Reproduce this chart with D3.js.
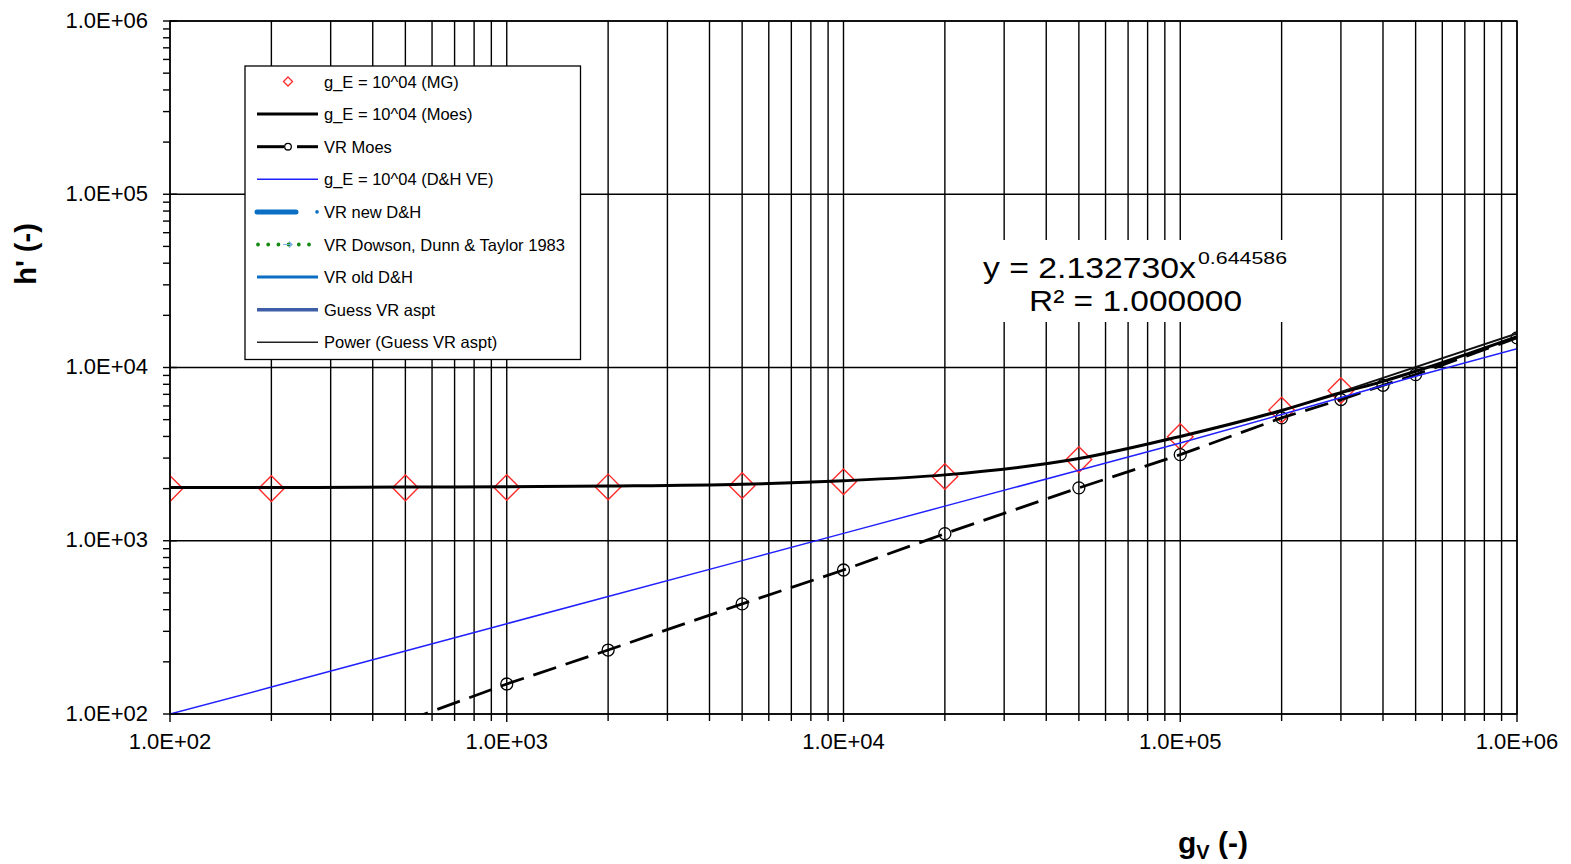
<!DOCTYPE html>
<html><head><meta charset="utf-8">
<script src="https://cdn.jsdelivr.net/npm/d3@7"></script>
<style>
html,body{margin:0;padding:0;background:#fff;}
svg{display:block;font-family:"Liberation Sans",Arial,sans-serif;}
</style></head><body>
<svg id="chart" width="1571" height="864"></svg>
<script>
// ---- data: dimensionless film thickness h' versus g_V ----
const gvMG   = [1e2, 2e2, 5e2, 1e3, 2e3, 5e3, 1e4, 2e4, 5e4, 1e5, 2e5, 3e5];
const hMG    = [2000, 2000, 2020, 2030, 2045, 2080, 2190, 2350, 2940, 3990, 5680, 7360];

const gvMoes = [1e2, 2e2, 5e2, 1e3, 2e3, 5e3, 1e4, 2e4, 5e4, 1e5, 2e5, 3e5, 4e5, 5e5, 1e6];
const hMoes  = [2030, 2030, 2040, 2050, 2070, 2120, 2220, 2400, 2980, 4000, 5650, 7150, 8320, 9510, 15070];

const gvVRMoes = [5e2, 1e3, 2e3, 5e3, 1e4, 2e4, 5e4, 1e5, 2e5, 3e5, 4e5, 5e5, 1e6];
const hVRMoes  = [91, 149, 234, 432, 678, 1099, 2020, 3140, 5120, 6530, 7890, 9100, 14830];

const gvDHVE = [1e2, 2e2, 5e2, 1e3, 2e3, 5e3, 1e4, 2e4, 5e4, 1e5, 2e5, 5e5, 1e6];
const hDHVE  = [100, 143, 231, 332, 477, 768, 1103, 1584, 2551, 3664, 5350, 8900, 12850];

// power trendline fitted to "Guess VR aspt"
const fitA = 2.132730;
const fitB = 0.644586;
const fitR2 = 1.000000;
const fitRange = [3e5, 1e6];

const axisDomain = [1e2, 1e6];
const majorTicks = [1e2, 1e3, 1e4, 1e5, 1e6];

const legendNames = [
  "g_E = 10^04 (MG)",
  "g_E = 10^04 (Moes)",
  "VR Moes",
  "g_E = 10^04 (D&H VE)",
  "VR new D&H",
  "VR Dowson, Dunn & Taylor 1983",
  "VR old D&H",
  "Guess VR aspt",
  "Power (Guess VR aspt)"
];

// ---- layout ----
const svg = d3.select("#chart");
const X0 = 170, X1 = 1517, Y0 = 714, Y1 = 21;
const x = d3.scaleLog().domain(axisDomain).range([X0, X1]);
const y = d3.scaleLog().domain(axisDomain).range([Y0, Y1]);
const fmt = v => v.toExponential(1).toUpperCase().replace(/E([+-])(\d)$/, "E$10$2");
const zip = (a, b) => a.map((v, i) => ({x: v, y: b[i]}));

svg.append("rect").attr("width", 1571).attr("height", 864).attr("fill", "#fff");

svg.append("defs").append("clipPath").attr("id", "plotClip")
  .append("rect").attr("x", X0).attr("y", Y1).attr("width", X1 - X0).attr("height", Y0 - Y1);

// gridlines: every minor step along x, decades along y
const grid = svg.append("g").attr("stroke", "#000").attr("stroke-width", 1.4);
grid.selectAll("line.vx").data(x.ticks()).join("line")
  .attr("x1", d => x(d)).attr("x2", d => x(d)).attr("y1", Y1).attr("y2", Y0);
grid.selectAll("line.hy").data(majorTicks).join("line")
  .attr("y1", d => y(d)).attr("y2", d => y(d)).attr("x1", X0).attr("x2", X1);

// tick marks
const ticks = svg.append("g").attr("stroke", "#000").attr("stroke-width", 1.4);
ticks.selectAll("line.ty").data(y.ticks()).join("line")
  .attr("y1", d => y(d)).attr("y2", d => y(d))
  .attr("x1", X0 - 7).attr("x2", d => majorTicks.includes(d) ? X0 + 7 : X0);
ticks.selectAll("line.tx").data(x.ticks()).join("line")
  .attr("x1", d => x(d)).attr("x2", d => x(d))
  .attr("y1", Y0).attr("y2", d => majorTicks.includes(d) ? Y0 + 8 : Y0 + 7);

// tick labels
svg.append("g").selectAll("text").data(majorTicks).join("text")
  .attr("x", 148).attr("y", d => y(d) - 1).attr("text-anchor", "end")
  .attr("dominant-baseline", "central").attr("font-size", 22).attr("fill", "#000")
  .text(fmt);
svg.append("g").selectAll("text").data(majorTicks).join("text")
  .attr("x", d => x(d)).attr("y", 741).attr("text-anchor", "middle")
  .attr("dominant-baseline", "central").attr("font-size", 22).attr("fill", "#000")
  .text(fmt);

// axis titles
svg.append("text").attr("transform", "translate(35.5,254) rotate(-90)")
  .attr("text-anchor", "middle").attr("font-size", 29).attr("font-weight", "bold")
  .text("h' (-)");
const xt = svg.append("text").attr("x", 1178).attr("y", 853)
  .attr("font-size", 30).attr("font-weight", "bold");
xt.append("tspan").text("g");
xt.append("tspan").attr("font-size", 20).attr("dy", 6).text("V");
xt.append("tspan").attr("dy", -6).text(" (-)");

// ---- series ----
const plot = svg.append("g").attr("clip-path", "url(#plotClip)");

// g_E = 10^04 (MG): hollow red diamonds
const dia = s => `M0,${-s}L${s},0L0,${s}L${-s},0Z`;
plot.append("g").selectAll("path").data(zip(gvMG, hMG)).join("path")
  .attr("transform", d => `translate(${x(d.x)},${y(d.y)})`)
  .attr("d", dia(12.8)).attr("fill", "none").attr("stroke", "#ff2a2a").attr("stroke-width", 1.4);

// g_E = 10^04 (Moes): smooth thick black line
const lineGen = d3.line().x(d => x(d.x)).y(d => y(d.y));
plot.append("path").datum(zip(gvMoes, hMoes))
  .attr("d", lineGen.curve(d3.curveMonotoneX)).attr("fill", "none")
  .attr("stroke", "#000").attr("stroke-width", 3);

// VR Moes: long-dash black line with hollow circles
const straight = d3.line().x(d => x(d.x)).y(d => y(d.y));
plot.append("path").datum(zip(gvVRMoes, hVRMoes))
  .attr("d", straight).attr("fill", "none").attr("stroke", "#000")
  .attr("stroke-width", 2.8).attr("stroke-dasharray", "24,10");
plot.append("g").selectAll("circle").data(zip(gvVRMoes, hVRMoes)).join("circle")
  .attr("cx", d => x(d.x)).attr("cy", d => y(d.y)).attr("r", 6)
  .attr("fill", "none").attr("stroke", "#000").attr("stroke-width", 1.3);

// g_E = 10^04 (D&H VE): thin blue line
plot.append("path").datum(zip(gvDHVE, hDHVE))
  .attr("d", straight).attr("fill", "none").attr("stroke", "#2020ff").attr("stroke-width", 1.5);

// Power trendline y = a x^b
const fitPts = fitRange.map(v => ({x: v, y: fitA * Math.pow(v, fitB)}));
plot.append("path").datum(fitPts)
  .attr("d", straight).attr("fill", "none").attr("stroke", "#111").attr("stroke-width", 2);

// plot frame
svg.append("rect").attr("x", X0).attr("y", Y1).attr("width", X1 - X0).attr("height", Y0 - Y1)
  .attr("fill", "none").attr("stroke", "#000").attr("stroke-width", 1.4);

// ---- legend ----
const lg = svg.append("g");
lg.append("rect").attr("x", 245).attr("y", 66).attr("width", 335.5).attr("height", 293.5)
  .attr("fill", "#fff").attr("stroke", "#000").attr("stroke-width", 1.3);
const rowY = i => 81.5 + 32.6 * i;
const sx0 = 257, sx1 = 318;
const seg = (g, a, b, yy, col, w, dash, cap) => g.append("line")
  .attr("x1", a).attr("x2", b).attr("y1", yy).attr("y2", yy)
  .attr("stroke", col).attr("stroke-width", w)
  .attr("stroke-dasharray", dash || null).attr("stroke-linecap", cap || "butt");

legendNames.forEach((name, i) => {
  const yy = rowY(i);
  const g = lg.append("g");
  if (i === 0) {
    g.append("path").attr("transform", `translate(288,${yy})`).attr("d", dia(4.5))
      .attr("fill", "none").attr("stroke", "#ff2a2a").attr("stroke-width", 1.3);
  } else if (i === 1) {
    seg(g, sx0, sx1, yy, "#000", 3);
  } else if (i === 2) {
    seg(g, sx0, 284, yy, "#000", 3);
    seg(g, 297, sx1, yy, "#000", 3);
    g.append("circle").attr("cx", 288).attr("cy", yy).attr("r", 3.3)
      .attr("fill", "#fff").attr("stroke", "#000").attr("stroke-width", 1.3);
  } else if (i === 3) {
    seg(g, sx0, sx1, yy, "#2020ff", 1.5);
  } else if (i === 4) {
    seg(g, 257, 296, yy, "#0a6fc2", 5, null, "round");
    g.append("circle").attr("cx", 317).attr("cy", yy).attr("r", 1.8).attr("fill", "#0a6fc2");
  } else if (i === 5) {
    seg(g, 258, 318, yy, "#128a12", 3.8, "0,10.2", "round");
    g.append("path").attr("d", `M283,${yy}h9M289,${yy - 3}l3,3l-3,3`)
      .attr("fill", "none").attr("stroke", "#7aaee0").attr("stroke-width", 1.2);
  } else if (i === 6) {
    seg(g, sx0, sx1, yy, "#0a6fc2", 3);
  } else if (i === 7) {
    seg(g, sx0, sx1, yy, "#3e5ea8", 3.5);
  } else {
    seg(g, sx0, sx1, yy, "#222", 1.5);
  }
  g.append("text").attr("x", 324).attr("y", yy).attr("dominant-baseline", "central")
    .attr("font-size", 16.5).attr("fill", "#000").text(name);
});

// ---- trendline equation label ----
const eq = svg.append("g");
eq.append("rect").attr("x", 978).attr("y", 240).attr("width", 316).attr("height", 82).attr("fill", "#fff");
eq.append("text").attr("x", 983).attr("y", 278).attr("font-size", 30)
  .attr("textLength", 213).attr("lengthAdjust", "spacingAndGlyphs")
  .text(`y = ${fitA.toFixed(6)}x`);
eq.append("text").attr("x", 1198).attr("y", 264).attr("font-size", 17)
  .attr("textLength", 89).attr("lengthAdjust", "spacingAndGlyphs")
  .text(fitB.toFixed(6));
eq.append("text").attr("x", 1029).attr("y", 311).attr("font-size", 30)
  .attr("textLength", 213).attr("lengthAdjust", "spacingAndGlyphs")
  .text(`R² = ${fitR2.toFixed(6)}`);
</script>
</body></html>
